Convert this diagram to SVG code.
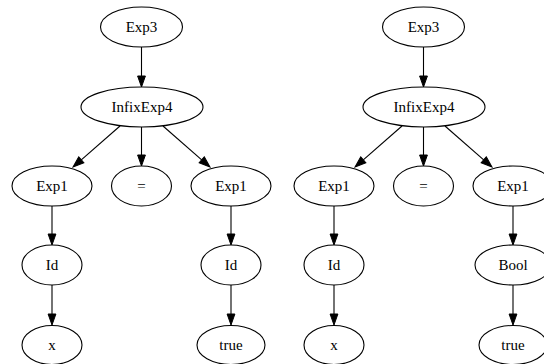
<svg xmlns="http://www.w3.org/2000/svg" width="544" height="364" viewBox="0 0 544 364">
<style>
.n ellipse{fill:none;stroke:#000;stroke-width:1.1}
.n text{font-family:'Liberation Serif','Times New Roman','DejaVu Serif',serif;font-size:15px;fill:#000;text-anchor:middle}
#edges line{stroke:#000;stroke-width:1.1;marker-end:url(#ah)}
</style>
<defs>
<marker id="ah" markerUnits="userSpaceOnUse" markerWidth="12" markerHeight="10" refX="0" refY="4" orient="auto" overflow="visible">
<path d="M0,0.1 L11,4 L0,7.9 z" fill="#000" stroke="#000" stroke-width="1"/>
</marker>
</defs>
<rect width="544" height="364" fill="#fff"/>
<g id="edges">
<line x1="141.5" y1="47" x2="141.5" y2="76"/>
<line x1="120" y1="126" x2="81.3" y2="159.8"/>
<line x1="141.5" y1="127" x2="141.5" y2="155"/>
<line x1="163" y1="126" x2="201.7" y2="159.8"/>
<line x1="52" y1="206" x2="52" y2="234"/>
<line x1="52" y1="285" x2="52" y2="314"/>
<line x1="231" y1="206" x2="231" y2="234"/>
<line x1="231" y1="285" x2="231" y2="314"/>
<line x1="423.5" y1="47" x2="423.5" y2="76"/>
<line x1="402" y1="126" x2="363.3" y2="159.8"/>
<line x1="423.5" y1="127" x2="423.5" y2="155"/>
<line x1="445" y1="126" x2="483.7" y2="159.8"/>
<line x1="334" y1="206" x2="334" y2="234"/>
<line x1="334" y1="285" x2="334" y2="314"/>
<line x1="513" y1="206" x2="513" y2="234"/>
<line x1="513" y1="285" x2="513" y2="314"/>
</g>
<g id="L_exp3" class="n" font-family="Liberation Serif, serif"><ellipse cx="141.5" cy="27" rx="41" ry="20"/><text x="141.5" y="32">Exp3</text></g>
<g id="L_infix" class="n"><ellipse cx="142" cy="107" rx="61" ry="20"/><text x="142" y="112">InfixExp4</text></g>
<g id="L_exp1a" class="n"><ellipse cx="52" cy="186" rx="40" ry="20"/><text x="52" y="191">Exp1</text></g>
<g id="L_eq" class="n"><ellipse cx="141.5" cy="186" rx="30" ry="20"/><text x="141.5" y="191">=</text></g>
<g id="L_exp1b" class="n"><ellipse cx="231" cy="186" rx="40" ry="20"/><text x="231" y="191">Exp1</text></g>
<g id="L_id1" class="n"><ellipse cx="52" cy="265" rx="30" ry="20"/><text x="52" y="270">Id</text></g>
<g id="L_id2" class="n"><ellipse cx="231" cy="265" rx="30" ry="20"/><text x="231" y="270">Id</text></g>
<g id="L_x" class="n"><ellipse cx="52" cy="345" rx="30" ry="19.5"/><text x="52" y="350">x</text></g>
<g id="L_true" class="n"><ellipse cx="231" cy="345" rx="34" ry="19.5"/><text x="231" y="350">true</text></g>
<g id="R_exp3" class="n"><ellipse cx="423.5" cy="27" rx="41" ry="20"/><text x="423.5" y="32">Exp3</text></g>
<g id="R_infix" class="n"><ellipse cx="424" cy="107" rx="61" ry="20"/><text x="424" y="112">InfixExp4</text></g>
<g id="R_exp1a" class="n"><ellipse cx="334" cy="186" rx="40" ry="20"/><text x="334" y="191">Exp1</text></g>
<g id="R_eq" class="n"><ellipse cx="423.5" cy="186" rx="30" ry="20"/><text x="423.5" y="191">=</text></g>
<g id="R_exp1b" class="n"><ellipse cx="513" cy="186" rx="40" ry="20"/><text x="513" y="191">Exp1</text></g>
<g id="R_id" class="n"><ellipse cx="334" cy="265" rx="30" ry="20"/><text x="334" y="270">Id</text></g>
<g id="R_bool" class="n"><ellipse cx="513" cy="265" rx="38" ry="20"/><text x="513" y="270">Bool</text></g>
<g id="R_x" class="n"><ellipse cx="334" cy="345" rx="30" ry="19.5"/><text x="334" y="350">x</text></g>
<g id="R_true" class="n"><ellipse cx="513" cy="345" rx="34" ry="19.5"/><text x="513" y="350">true</text></g>
</svg>
